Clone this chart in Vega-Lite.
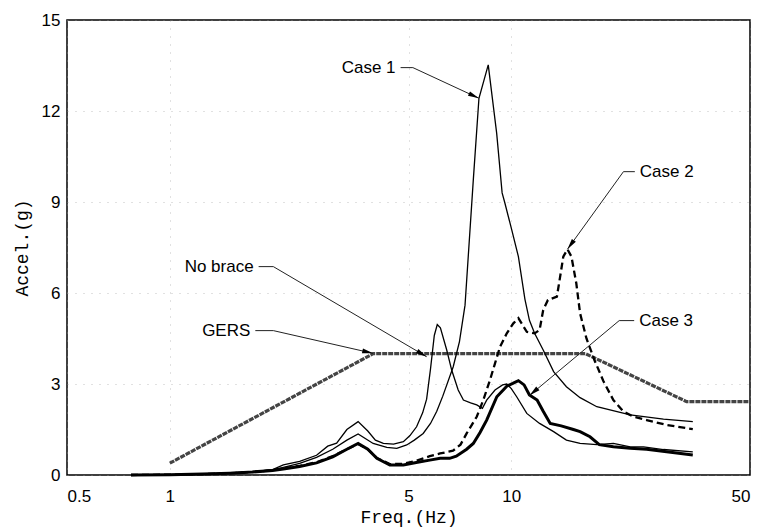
{
  "$schema": "https://vega.github.io/schema/vega-lite/v6.json",
  "width": 683,
  "height": 455,
  "autosize": {"type": "none"},
  "padding": {"left": 67, "top": 20, "right": 17, "bottom": 56},
  "background": "white",
  "config": {
    "view": {"stroke": "black", "strokeWidth": 1.5},
    "axis": {
      "labelFont": "Liberation Sans",
      "labelFontSize": 17,
      "labelColor": "black",
      "titleFont": "Liberation Mono",
      "titleFontSize": 18,
      "titleFontWeight": "normal",
      "titleColor": "black",
      "ticks": false,
      "domain": false,
      "grid": true,
      "gridColor": "#999999",
      "gridDash": [1, 7],
      "gridOpacity": 0.6
    }
  },
  "datasets": {
    "curves": [
      {"series": "GERS", "f": 1.0, "a": 0.39},
      {"series": "GERS", "f": 3.94, "a": 4.0},
      {"series": "GERS", "f": 16.5, "a": 4.0},
      {"series": "GERS", "f": 32.6, "a": 2.42},
      {"series": "GERS", "f": 50, "a": 2.42},

      {"series": "No brace", "f": 0.77, "a": 0},
      {"series": "No brace", "f": 1.0, "a": 0.01},
      {"series": "No brace", "f": 1.25, "a": 0.03},
      {"series": "No brace", "f": 1.5, "a": 0.07},
      {"series": "No brace", "f": 1.75, "a": 0.11},
      {"series": "No brace", "f": 2.0, "a": 0.18},
      {"series": "No brace", "f": 2.15, "a": 0.33},
      {"series": "No brace", "f": 2.4, "a": 0.45},
      {"series": "No brace", "f": 2.69, "a": 0.65},
      {"series": "No brace", "f": 2.9, "a": 0.95},
      {"series": "No brace", "f": 3.08, "a": 1.05},
      {"series": "No brace", "f": 3.3, "a": 1.5},
      {"series": "No brace", "f": 3.56, "a": 1.76},
      {"series": "No brace", "f": 3.8, "a": 1.45},
      {"series": "No brace", "f": 4.0, "a": 1.15},
      {"series": "No brace", "f": 4.22, "a": 1.04},
      {"series": "No brace", "f": 4.52, "a": 1.02},
      {"series": "No brace", "f": 4.83, "a": 1.1},
      {"series": "No brace", "f": 5.05, "a": 1.3},
      {"series": "No brace", "f": 5.28, "a": 1.59},
      {"series": "No brace", "f": 5.5, "a": 2.05},
      {"series": "No brace", "f": 5.65, "a": 2.5},
      {"series": "No brace", "f": 5.8, "a": 3.5},
      {"series": "No brace", "f": 5.95, "a": 4.6},
      {"series": "No brace", "f": 6.07, "a": 4.96},
      {"series": "No brace", "f": 6.2, "a": 4.85},
      {"series": "No brace", "f": 6.47, "a": 4.12},
      {"series": "No brace", "f": 6.69, "a": 3.46},
      {"series": "No brace", "f": 6.99, "a": 2.8},
      {"series": "No brace", "f": 7.24, "a": 2.47},
      {"series": "No brace", "f": 7.6, "a": 2.38},
      {"series": "No brace", "f": 7.92, "a": 2.31},
      {"series": "No brace", "f": 8.23, "a": 2.2},
      {"series": "No brace", "f": 8.47, "a": 2.47},
      {"series": "No brace", "f": 8.96, "a": 2.8},
      {"series": "No brace", "f": 9.43, "a": 2.97},
      {"series": "No brace", "f": 9.7, "a": 3.0},
      {"series": "No brace", "f": 10.0, "a": 2.85},
      {"series": "No brace", "f": 10.37, "a": 2.58},
      {"series": "No brace", "f": 11.1, "a": 2.03},
      {"series": "No brace", "f": 12.1, "a": 1.7},
      {"series": "No brace", "f": 13.3, "a": 1.43},
      {"series": "No brace", "f": 14.5, "a": 1.15},
      {"series": "No brace", "f": 15.9, "a": 1.04},
      {"series": "No brace", "f": 17.8, "a": 1.0},
      {"series": "No brace", "f": 19.9, "a": 1.04},
      {"series": "No brace", "f": 22.3, "a": 0.93},
      {"series": "No brace", "f": 24.4, "a": 0.93},
      {"series": "No brace", "f": 27.9, "a": 0.84},
      {"series": "No brace", "f": 34, "a": 0.76},

      {"series": "Case 1", "f": 0.77, "a": 0},
      {"series": "Case 1", "f": 1.0, "a": 0.01},
      {"series": "Case 1", "f": 1.25, "a": 0.03},
      {"series": "Case 1", "f": 1.5, "a": 0.07},
      {"series": "Case 1", "f": 1.75, "a": 0.11},
      {"series": "Case 1", "f": 2.0, "a": 0.17},
      {"series": "Case 1", "f": 2.15, "a": 0.25},
      {"series": "Case 1", "f": 2.4, "a": 0.38},
      {"series": "Case 1", "f": 2.69, "a": 0.58},
      {"series": "Case 1", "f": 3.0, "a": 0.85},
      {"series": "Case 1", "f": 3.3, "a": 1.15},
      {"series": "Case 1", "f": 3.56, "a": 1.35},
      {"series": "Case 1", "f": 3.94, "a": 1.04},
      {"series": "Case 1", "f": 4.32, "a": 0.91},
      {"series": "Case 1", "f": 4.62, "a": 0.88},
      {"series": "Case 1", "f": 4.94, "a": 0.99},
      {"series": "Case 1", "f": 5.2, "a": 1.15},
      {"series": "Case 1", "f": 5.52, "a": 1.37},
      {"series": "Case 1", "f": 5.8, "a": 1.7},
      {"series": "Case 1", "f": 6.05, "a": 2.1},
      {"series": "Case 1", "f": 6.3, "a": 2.6},
      {"series": "Case 1", "f": 6.76, "a": 3.57},
      {"series": "Case 1", "f": 7.05, "a": 4.4},
      {"series": "Case 1", "f": 7.32, "a": 5.6},
      {"series": "Case 1", "f": 7.74, "a": 9.73},
      {"series": "Case 1", "f": 8.04, "a": 12.42},
      {"series": "Case 1", "f": 8.56, "a": 13.52},
      {"series": "Case 1", "f": 9.06, "a": 11.27},
      {"series": "Case 1", "f": 9.4, "a": 9.3},
      {"series": "Case 1", "f": 9.58, "a": 8.96},
      {"series": "Case 1", "f": 10.03, "a": 8.08},
      {"series": "Case 1", "f": 10.49, "a": 7.2},
      {"series": "Case 1", "f": 10.96, "a": 5.8},
      {"series": "Case 1", "f": 11.3, "a": 5.1},
      {"series": "Case 1", "f": 11.7, "a": 4.67},
      {"series": "Case 1", "f": 12.4, "a": 4.12},
      {"series": "Case 1", "f": 13.3, "a": 3.41},
      {"series": "Case 1", "f": 14.5, "a": 2.91},
      {"series": "Case 1", "f": 15.9, "a": 2.55},
      {"series": "Case 1", "f": 17.8, "a": 2.25},
      {"series": "Case 1", "f": 22.3, "a": 1.98},
      {"series": "Case 1", "f": 27.9, "a": 1.84},
      {"series": "Case 1", "f": 34, "a": 1.76},

      {"series": "Case 2", "f": 0.77, "a": 0},
      {"series": "Case 2", "f": 1.0, "a": 0.01},
      {"series": "Case 2", "f": 1.25, "a": 0.03},
      {"series": "Case 2", "f": 1.5, "a": 0.06},
      {"series": "Case 2", "f": 1.75, "a": 0.1},
      {"series": "Case 2", "f": 2.0, "a": 0.16},
      {"series": "Case 2", "f": 2.15, "a": 0.22},
      {"series": "Case 2", "f": 2.4, "a": 0.3},
      {"series": "Case 2", "f": 2.69, "a": 0.42},
      {"series": "Case 2", "f": 3.0, "a": 0.62},
      {"series": "Case 2", "f": 3.3, "a": 0.85},
      {"series": "Case 2", "f": 3.56, "a": 1.02},
      {"series": "Case 2", "f": 3.8, "a": 0.85},
      {"series": "Case 2", "f": 4.04, "a": 0.56},
      {"series": "Case 2", "f": 4.41, "a": 0.36},
      {"series": "Case 2", "f": 4.83, "a": 0.37},
      {"series": "Case 2", "f": 5.27, "a": 0.47},
      {"series": "Case 2", "f": 5.77, "a": 0.62},
      {"series": "Case 2", "f": 6.19, "a": 0.71},
      {"series": "Case 2", "f": 6.75, "a": 0.8},
      {"series": "Case 2", "f": 7.1, "a": 1.0},
      {"series": "Case 2", "f": 7.4, "a": 1.37},
      {"series": "Case 2", "f": 7.92, "a": 1.92},
      {"series": "Case 2", "f": 8.28, "a": 2.47},
      {"series": "Case 2", "f": 8.66, "a": 3.13},
      {"series": "Case 2", "f": 8.96, "a": 3.68},
      {"series": "Case 2", "f": 9.27, "a": 4.23},
      {"series": "Case 2", "f": 9.7, "a": 4.67},
      {"series": "Case 2", "f": 10.14, "a": 5.0},
      {"series": "Case 2", "f": 10.49, "a": 5.17},
      {"series": "Case 2", "f": 11.1, "a": 4.72},
      {"series": "Case 2", "f": 11.7, "a": 4.67},
      {"series": "Case 2", "f": 12.1, "a": 4.78},
      {"series": "Case 2", "f": 12.4, "a": 5.44},
      {"series": "Case 2", "f": 12.8, "a": 5.77},
      {"series": "Case 2", "f": 13.6, "a": 5.88},
      {"series": "Case 2", "f": 13.9, "a": 6.54},
      {"series": "Case 2", "f": 14.2, "a": 7.2},
      {"series": "Case 2", "f": 14.6, "a": 7.44},
      {"series": "Case 2", "f": 15.0, "a": 7.2},
      {"series": "Case 2", "f": 15.5, "a": 6.32},
      {"series": "Case 2", "f": 15.9, "a": 5.33},
      {"series": "Case 2", "f": 16.6, "a": 4.5},
      {"series": "Case 2", "f": 17.5, "a": 3.8},
      {"series": "Case 2", "f": 18.6, "a": 3.1},
      {"series": "Case 2", "f": 19.9, "a": 2.47},
      {"series": "Case 2", "f": 21.3, "a": 2.09},
      {"series": "Case 2", "f": 22.8, "a": 1.92},
      {"series": "Case 2", "f": 24.9, "a": 1.81},
      {"series": "Case 2", "f": 28.5, "a": 1.65},
      {"series": "Case 2", "f": 34, "a": 1.51},

      {"series": "Case 3", "f": 0.77, "a": 0},
      {"series": "Case 3", "f": 1.0, "a": 0.01},
      {"series": "Case 3", "f": 1.25, "a": 0.03},
      {"series": "Case 3", "f": 1.5, "a": 0.06},
      {"series": "Case 3", "f": 1.75, "a": 0.1},
      {"series": "Case 3", "f": 2.0, "a": 0.15},
      {"series": "Case 3", "f": 2.15, "a": 0.2},
      {"series": "Case 3", "f": 2.4, "a": 0.28},
      {"series": "Case 3", "f": 2.69, "a": 0.4},
      {"series": "Case 3", "f": 3.0, "a": 0.6},
      {"series": "Case 3", "f": 3.3, "a": 0.85},
      {"series": "Case 3", "f": 3.56, "a": 1.04},
      {"series": "Case 3", "f": 3.8, "a": 0.85},
      {"series": "Case 3", "f": 4.04, "a": 0.55},
      {"series": "Case 3", "f": 4.41, "a": 0.33},
      {"series": "Case 3", "f": 4.83, "a": 0.33},
      {"series": "Case 3", "f": 5.27, "a": 0.41},
      {"series": "Case 3", "f": 5.77, "a": 0.49},
      {"series": "Case 3", "f": 6.19, "a": 0.55},
      {"series": "Case 3", "f": 6.6, "a": 0.55},
      {"series": "Case 3", "f": 6.9, "a": 0.62},
      {"series": "Case 3", "f": 7.4, "a": 0.85},
      {"series": "Case 3", "f": 7.74, "a": 1.04},
      {"series": "Case 3", "f": 8.1, "a": 1.4},
      {"series": "Case 3", "f": 8.47, "a": 1.81},
      {"series": "Case 3", "f": 9.07, "a": 2.58},
      {"series": "Case 3", "f": 9.7, "a": 2.93},
      {"series": "Case 3", "f": 10.1, "a": 3.02},
      {"series": "Case 3", "f": 10.49, "a": 3.11},
      {"series": "Case 3", "f": 10.9, "a": 2.97},
      {"series": "Case 3", "f": 11.3, "a": 2.64},
      {"series": "Case 3", "f": 11.9, "a": 2.47},
      {"series": "Case 3", "f": 12.4, "a": 2.1},
      {"series": "Case 3", "f": 13.0, "a": 1.7},
      {"series": "Case 3", "f": 14.0, "a": 1.62},
      {"series": "Case 3", "f": 15.2, "a": 1.5},
      {"series": "Case 3", "f": 15.9, "a": 1.43},
      {"series": "Case 3", "f": 17.0, "a": 1.26},
      {"series": "Case 3", "f": 18.1, "a": 1.0},
      {"series": "Case 3", "f": 19.9, "a": 0.93},
      {"series": "Case 3", "f": 22.3, "a": 0.88},
      {"series": "Case 3", "f": 24.9, "a": 0.85},
      {"series": "Case 3", "f": 28.5, "a": 0.77},
      {"series": "Case 3", "f": 34, "a": 0.66}
    ],
    "leaders": [
      {"id": "Case 1", "ord": 0, "f": 4.74, "a": 13.43},
      {"id": "Case 1", "ord": 1, "f": 5.15, "a": 13.43},
      {"id": "Case 1", "ord": 2, "f": 8.04, "a": 12.42},
      {"id": "No brace", "ord": 0, "f": 1.82, "a": 6.87},
      {"id": "No brace", "ord": 1, "f": 2.01, "a": 6.87},
      {"id": "No brace", "ord": 2, "f": 5.65, "a": 3.9},
      {"id": "GERS", "ord": 0, "f": 1.78, "a": 4.76},
      {"id": "GERS", "ord": 1, "f": 2.01, "a": 4.76},
      {"id": "GERS", "ord": 2, "f": 3.94, "a": 4.01},
      {"id": "Case 2", "ord": 0, "f": 23.0, "a": 10.0},
      {"id": "Case 2", "ord": 1, "f": 21.3, "a": 10.0},
      {"id": "Case 2", "ord": 2, "f": 14.6, "a": 7.44},
      {"id": "Case 3", "ord": 0, "f": 22.9, "a": 5.09},
      {"id": "Case 3", "ord": 1, "f": 20.7, "a": 5.09},
      {"id": "Case 3", "ord": 2, "f": 11.3, "a": 2.62}
    ],
    "heads": [
      {"id": "Case 1", "f": 8.04, "a": 12.42},
      {"id": "No brace", "f": 5.65, "a": 3.9},
      {"id": "GERS", "f": 3.94, "a": 4.01},
      {"id": "Case 2", "f": 14.6, "a": 7.44},
      {"id": "Case 3", "f": 11.3, "a": 2.62}
    ],
    "labels": [
      {"label": "Case 1", "f": 4.74, "a": 13.43},
      {"label": "No brace", "f": 1.82, "a": 6.87},
      {"label": "GERS", "f": 1.78, "a": 4.76},
      {"label": "Case 2", "f": 23.0, "a": 10.0},
      {"label": "Case 3", "f": 22.9, "a": 5.09}
    ]
  },
  "encoding": {
    "x": {
      "field": "f",
      "type": "quantitative",
      "scale": {"type": "log", "domain": [0.5, 50], "nice": false},
      "axis": {"values": [0.5, 1, 5, 10, 50], "format": "~g", "title": "Freq.(Hz)", "labelPadding": 13, "titlePadding": 4}
    },
    "y": {
      "field": "a",
      "type": "quantitative",
      "scale": {"domain": [0, 15], "nice": false},
      "axis": {"values": [0, 3, 6, 9, 12, 15], "title": "Accel.(g)", "labelPadding": 7, "titlePadding": 10}
    }
  },
  "layer": [
    {
      "data": {"name": "curves"},
      "transform": [{"filter": "datum.series === 'GERS'"}],
      "mark": {"type": "line", "color": "#444444", "strokeWidth": 3.2, "strokeDash": [5, 1], "clip": true}
    },
    {
      "data": {"name": "curves"},
      "transform": [{"filter": "datum.series === 'No brace'"}],
      "mark": {"type": "line", "color": "black", "strokeWidth": 1.3}
    },
    {
      "data": {"name": "curves"},
      "transform": [{"filter": "datum.series === 'Case 1'"}],
      "mark": {"type": "line", "color": "black", "strokeWidth": 1.3}
    },
    {
      "data": {"name": "curves"},
      "transform": [{"filter": "datum.series === 'Case 2'"}],
      "mark": {"type": "line", "color": "black", "strokeWidth": 2.3, "strokeDash": [7, 4]}
    },
    {
      "data": {"name": "curves"},
      "transform": [{"filter": "datum.series === 'Case 3'"}],
      "mark": {"type": "line", "color": "black", "strokeWidth": 3}
    },
    {
      "data": {"name": "leaders"},
      "mark": {"type": "line", "color": "#222222", "strokeWidth": 1},
      "encoding": {"detail": {"field": "id"}, "order": {"field": "ord"}}
    },
    {
      "data": {"name": "heads"},
      "transform": [{"filter": "datum.id === 'Case 1'"}],
      "mark": {"type": "point", "shape": "M0,0L-2,-0.45L-2,0.45Z", "size": 121, "filled": true, "color": "black", "opacity": 1, "angle": 24.9}
    },
    {
      "data": {"name": "heads"},
      "transform": [{"filter": "datum.id === 'No brace'"}],
      "mark": {"type": "point", "shape": "M0,0L-2,-0.45L-2,0.45Z", "size": 121, "filled": true, "color": "black", "opacity": 1, "angle": 30.4}
    },
    {
      "data": {"name": "heads"},
      "transform": [{"filter": "datum.id === 'GERS'"}],
      "mark": {"type": "point", "shape": "M0,0L-2,-0.45L-2,0.45Z", "size": 121, "filled": true, "color": "black", "opacity": 1, "angle": 12.7}
    },
    {
      "data": {"name": "heads"},
      "transform": [{"filter": "datum.id === 'Case 2'"}],
      "mark": {"type": "point", "shape": "M0,0L-2,-0.45L-2,0.45Z", "size": 121, "filled": true, "color": "black", "opacity": 1, "angle": 125.8}
    },
    {
      "data": {"name": "heads"},
      "transform": [{"filter": "datum.id === 'Case 3'"}],
      "mark": {"type": "point", "shape": "M0,0L-2,-0.45L-2,0.45Z", "size": 121, "filled": true, "color": "black", "opacity": 1, "angle": 139.7}
    },
    {
      "data": {"name": "labels"},
      "transform": [{"filter": {"field": "label", "oneOf": ["Case 1", "No brace", "GERS"]}}],
      "mark": {"type": "text", "align": "right", "baseline": "middle", "dx": -5, "font": "Liberation Sans", "fontSize": 17, "color": "black"},
      "encoding": {"text": {"field": "label"}}
    },
    {
      "data": {"name": "labels"},
      "transform": [{"filter": {"field": "label", "oneOf": ["Case 2", "Case 3"]}}],
      "mark": {"type": "text", "align": "left", "baseline": "middle", "dx": 5, "font": "Liberation Sans", "fontSize": 17, "color": "black"},
      "encoding": {"text": {"field": "label"}}
    }
  ]
}
